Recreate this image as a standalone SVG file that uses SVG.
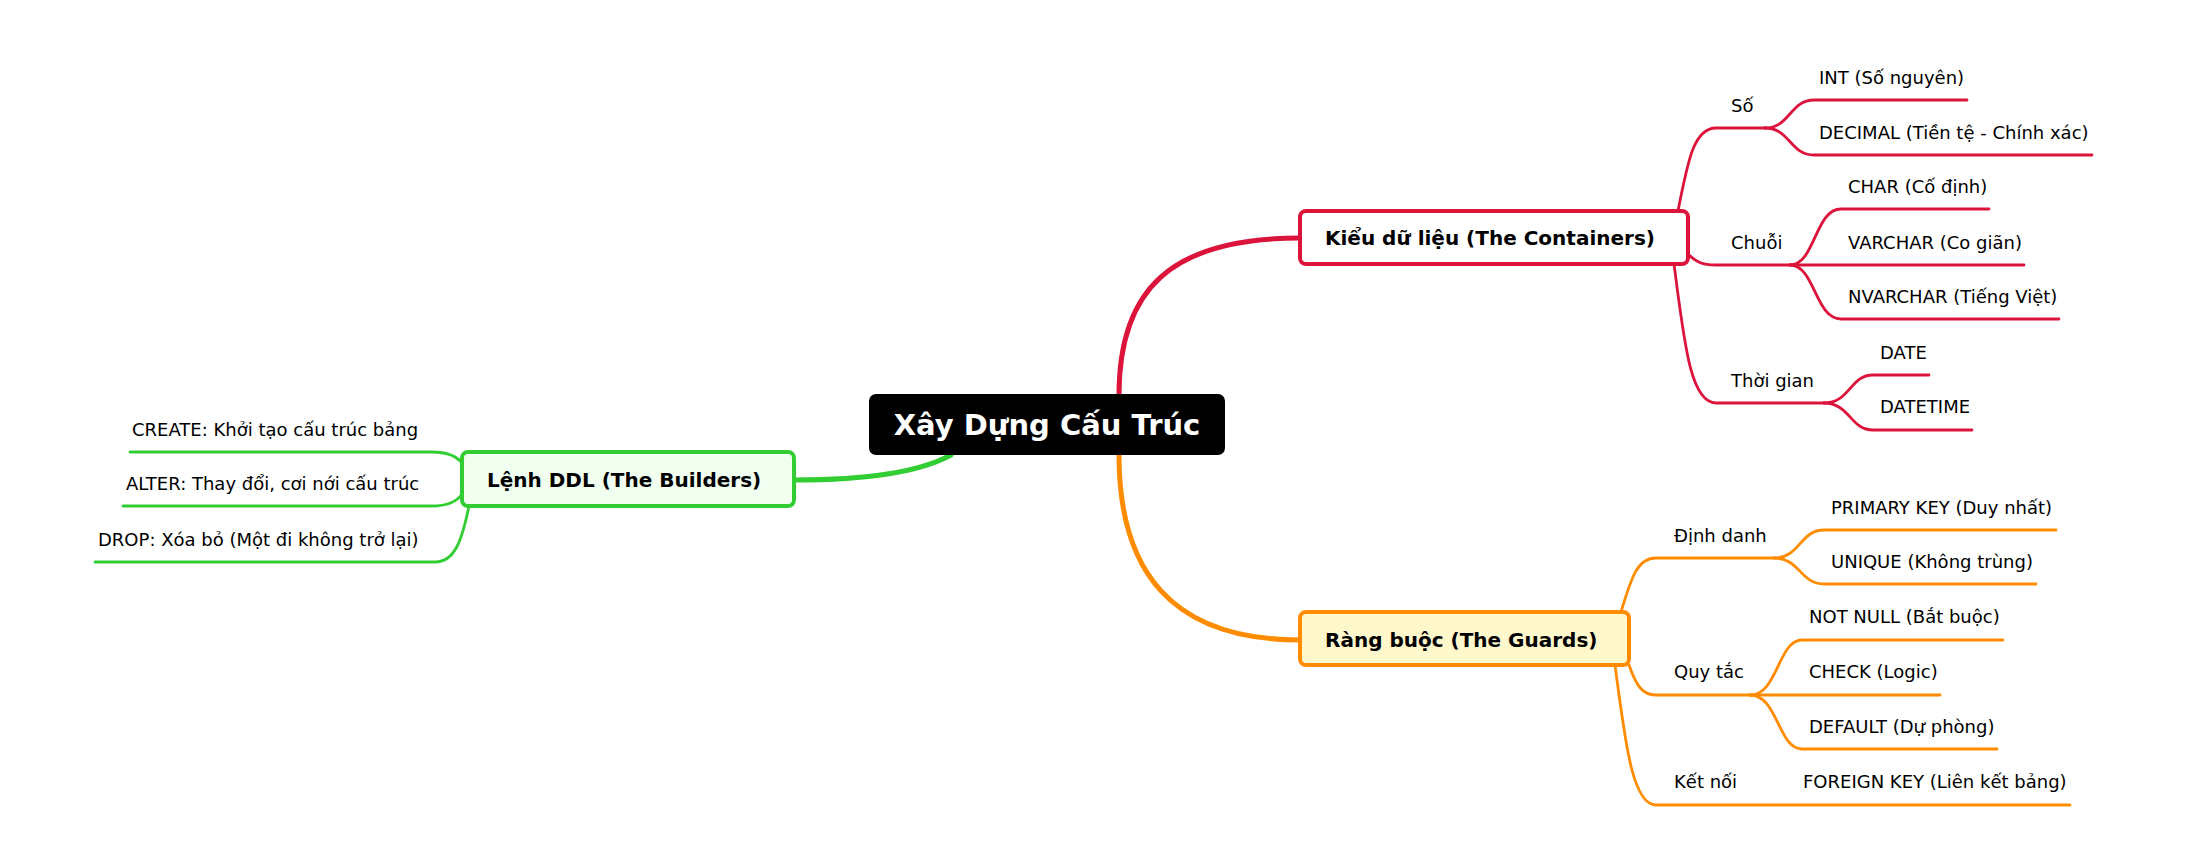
<svg xmlns="http://www.w3.org/2000/svg" width="2187" height="850" viewBox="0 0 2187 850">
<style>
text{font-family:"DejaVu Sans","Noto Sans",sans-serif;font-size:18px;fill:#000}
.b{font-weight:bold;font-size:20px}
.root{font-weight:bold;font-size:29px;fill:#fff}
path{fill:none;stroke-linecap:round}
.r{stroke:#DC143C;stroke-width:2.8}
.o{stroke:#FF8C00;stroke-width:2.8}
.g{stroke:#32CD32;stroke-width:2.8}
.main{stroke-width:5}
</style>
<rect width="2187" height="850" fill="#fff"/>
<g id="connectors">
<path class="r main" d="M1119,395 C1119,290 1170,238 1300,238"/>
<path class="o main" d="M1119,455 C1119,570 1170,640 1300,640"/>
<path class="g main" d="M951,455 C920,472 870,480 794,480"/>
<path class="r" d="M1678,211 C1688,160 1694,128 1716,128 L1765,128"/>
<path class="r" d="M1765,128 C1790,128 1790,100 1814,100 L1967,100"/>
<path class="r" d="M1765,128 C1790,128 1790,155 1814,155 L2092,155"/>
<path class="r" d="M1688,254 C1696,262 1702,265 1716,265 L1790,265"/>
<path class="r" d="M1790,265 C1815,265 1815,209 1841,209 L1989,209"/>
<path class="r" d="M1790,265 L2024,265"/>
<path class="r" d="M1790,265 C1815,265 1815,319 1841,319 L2059,319"/>
<path class="r" d="M1674,264 C1684,340 1690,403 1716,403 L1824,403"/>
<path class="r" d="M1824,403 C1850,403 1850,375 1873,375 L1929,375"/>
<path class="r" d="M1824,403 C1850,403 1850,430 1873,430 L1972,430"/>
<path class="o" d="M1621,612 C1632,575 1638,558 1656,558 L1774,558"/>
<path class="o" d="M1774,558 C1800,558 1800,530 1824,530 L2056,530"/>
<path class="o" d="M1774,558 C1800,558 1800,584 1824,584 L2036,584"/>
<path class="o" d="M1629,665 C1636,685 1642,695 1656,695 L1750,695"/>
<path class="o" d="M1750,695 C1778,695 1778,640 1802,640 L2003,640"/>
<path class="o" d="M1750,695 L1940,695"/>
<path class="o" d="M1750,695 C1778,695 1778,749 1802,749 L1997,749"/>
<path class="o" d="M1615,665 C1625,740 1632,805 1656,805 L2070,805"/>
<path class="g" d="M130,452 L432,452 C450,452 458,458 462,463"/>
<path class="g" d="M123,506 L432,506 C450,506 458,500 462,494"/>
<path class="g" d="M95,562 L435,562 C455,562 462,540 469,506"/>
</g>
<g id="root">
<rect x="869" y="394" width="356" height="61" rx="7" fill="#000"/>
<text class="root" x="1047" y="435" text-anchor="middle">Xây Dựng Cấu Trúc</text>
</g>
<g id="n-containers">
<rect x="1300" y="211" width="388" height="53" rx="6" fill="#fff" stroke="#DC143C" stroke-width="4"/>
<text class="b" x="1325" y="245">Kiểu dữ liệu (The Containers)</text>
</g>
<g id="n-guards">
<rect x="1300" y="612" width="329" height="53" rx="6" fill="#FFF8CC" stroke="#FF8C00" stroke-width="4"/>
<text class="b" x="1325" y="647">Ràng buộc (The Guards)</text>
</g>
<g id="n-builders">
<rect x="462" y="452" width="332" height="54" rx="6" fill="#F0FFF0" stroke="#32CD32" stroke-width="4"/>
<text class="b" x="487" y="487">Lệnh DDL (The Builders)</text>
</g>
<g id="red-leaves">
<text x="1731" y="112">Số</text>
<text x="1819" y="84">INT (Số nguyên)</text>
<text x="1819" y="139">DECIMAL (Tiền tệ - Chính xác)</text>
<text x="1731" y="249">Chuỗi</text>
<text x="1848" y="193">CHAR (Cố định)</text>
<text x="1848" y="249">VARCHAR (Co giãn)</text>
<text x="1848" y="303">NVARCHAR (Tiếng Việt)</text>
<text x="1731" y="387">Thời gian</text>
<text x="1880" y="359">DATE</text>
<text x="1880" y="413">DATETIME</text>
</g>
<g id="orange-leaves">
<text x="1674" y="542">Định danh</text>
<text x="1831" y="514">PRIMARY KEY (Duy nhất)</text>
<text x="1831" y="568">UNIQUE (Không trùng)</text>
<text x="1674" y="678">Quy tắc</text>
<text x="1809" y="623">NOT NULL (Bắt buộc)</text>
<text x="1809" y="678">CHECK (Logic)</text>
<text x="1809" y="733">DEFAULT (Dự phòng)</text>
<text x="1674" y="788">Kết nối</text>
<text x="1803" y="788">FOREIGN KEY (Liên kết bảng)</text>
</g>
<g id="green-leaves">
<text x="132" y="436">CREATE: Khởi tạo cấu trúc bảng</text>
<text x="126" y="490">ALTER: Thay đổi, cơi nới cấu trúc</text>
<text x="98" y="546">DROP: Xóa bỏ (Một đi không trở lại)</text>
</g>
</svg>
